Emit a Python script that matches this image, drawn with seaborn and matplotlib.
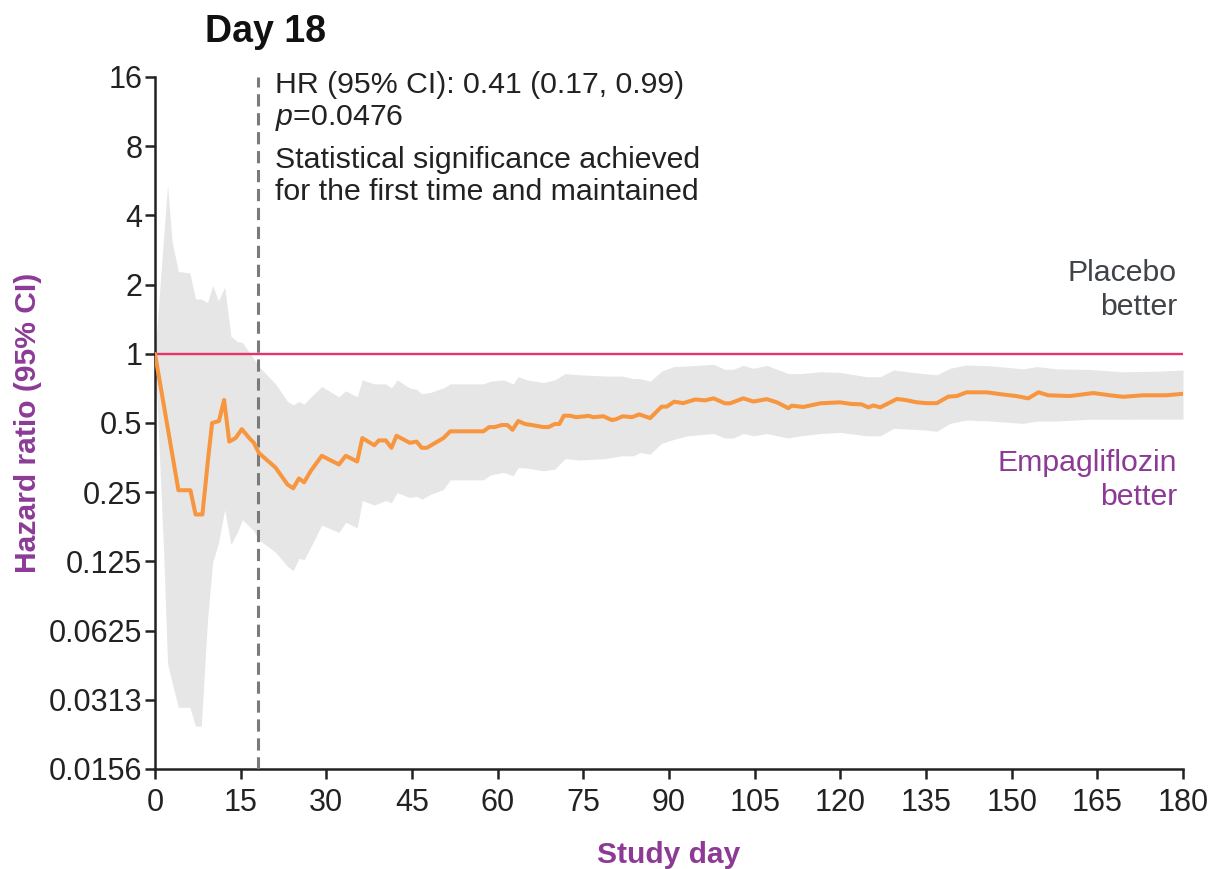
import numpy as np
import pandas as pd
import matplotlib
matplotlib.use("Agg")
import matplotlib.pyplot as plt
import seaborn as sns

# ---------------- data ----------------
line_days = [0, 4.1, 6.2, 7.1, 8.3, 9.3, 10.0, 11.2, 12.1, 13.0, 14.1, 15.2, 16.5, 17.3, 18.2,
             21.1, 23.2, 24.2, 25.2, 26.1, 27.3, 29.2, 32.2, 33.4, 35.4, 36.3, 38.4, 39.2, 40.4,
             41.4, 42.3, 44.6, 45.8, 46.7, 47.6, 50.5, 51.7, 57.5, 58.5, 59.5, 60.7, 61.7, 62.6,
             63.6, 64.8, 66.0, 68.0, 68.9, 70.0, 70.8, 71.6, 72.6, 73.8, 75.9, 76.8, 78.5, 80.0,
             80.8, 81.9, 83.5, 84.8, 86.7, 88.7, 89.6, 90.9, 92.5, 94.6, 96.3, 97.8, 99.8, 100.7,
             103.0, 104.8, 107.1, 108.9, 110.9, 111.5, 113.5, 116.5, 119.9, 121.9, 123.7, 124.9,
             125.8, 127.0, 129.9, 131.3, 133.4, 135.1, 136.9, 138.9, 140.4, 142.1, 145.6, 148.5,
             150.8, 152.9, 154.7, 156.4, 160.2, 164.3, 167.2, 169.5, 173.0, 177.1, 180.0]
line_hr = [1.0, 0.255, 0.255, 0.20, 0.20, 0.35, 0.50, 0.51, 0.63, 0.415, 0.43, 0.47, 0.43, 0.41, 0.37,
           0.32, 0.27, 0.26, 0.287, 0.276, 0.31, 0.36, 0.33, 0.36, 0.34, 0.43, 0.40, 0.42, 0.42,
           0.39, 0.44, 0.41, 0.415, 0.39, 0.39, 0.43, 0.46, 0.46, 0.48, 0.48, 0.49, 0.49, 0.467,
           0.51, 0.495, 0.49, 0.48, 0.48, 0.495, 0.495, 0.538, 0.538, 0.53, 0.537, 0.53, 0.535, 0.515,
           0.52, 0.535, 0.53, 0.545, 0.525, 0.589, 0.589, 0.619, 0.61, 0.633, 0.627, 0.64, 0.609, 0.609,
           0.64, 0.62, 0.635, 0.615, 0.58, 0.595, 0.587, 0.609, 0.615, 0.605, 0.603, 0.585,
           0.596, 0.585, 0.636, 0.63, 0.615, 0.61, 0.61, 0.651, 0.655, 0.68, 0.68, 0.665,
           0.655, 0.64, 0.68, 0.66, 0.655, 0.675, 0.66, 0.65, 0.66, 0.66, 0.67]

band_days = [0, 1.5, 2.2, 3.0, 4.1, 6.1, 7.1, 8.1, 9.2, 10.1, 11.1, 12.2, 13.3, 14.4, 15.3, 17.3,
             18.2, 21.1, 23.2, 24.2, 25.2, 26.1, 27.3, 29.2, 32.2, 33.4, 35.4, 36.3, 38.4, 40.4,
             41.4, 42.4, 44.6, 45.8, 46.7, 48.3, 50.5, 51.7, 57.5, 58.7, 61.0, 62.7, 63.6, 65.1,
             68.0, 70.0, 71.8, 74.4, 78.9, 81.7, 83.8, 84.9, 86.7, 88.7, 90.8, 93.2, 97.8, 99.8,
             101.2, 103.0, 104.8, 107.1, 110.9, 113.0, 116.5, 119.9, 124.6, 127.0, 129.3, 134.5,
             136.9, 139.2, 142.1, 146.2, 152.0, 154.4, 157.8, 163.7, 169.5, 175.4, 180.0]
band_lo = [1.0, 0.14, 0.045, 0.037, 0.029, 0.029, 0.024, 0.024, 0.07, 0.124, 0.15, 0.21, 0.148, 0.167, 0.19, 0.17,
           0.155, 0.137, 0.119, 0.114, 0.129, 0.127, 0.145, 0.18, 0.167, 0.185, 0.175, 0.23, 0.22, 0.23,
           0.225, 0.249, 0.237, 0.24, 0.233, 0.245, 0.257, 0.283, 0.283, 0.297, 0.305, 0.295, 0.32, 0.318,
           0.31, 0.315, 0.35, 0.345, 0.35, 0.36, 0.36, 0.372, 0.366, 0.408, 0.424, 0.44, 0.45, 0.43,
           0.43, 0.45, 0.44, 0.45, 0.43, 0.44, 0.45, 0.455, 0.44, 0.44, 0.474, 0.467,
           0.46, 0.498, 0.515, 0.51, 0.498, 0.51, 0.51, 0.519, 0.519, 0.52, 0.52]
band_hi = [1.0, 3.2, 5.4, 3.07, 2.28, 2.25, 1.73, 1.73, 1.67, 1.98, 1.70, 1.95, 1.19, 1.13, 1.12, 0.95,
           0.88, 0.74, 0.62, 0.60, 0.62, 0.605, 0.65, 0.72, 0.65, 0.69, 0.65, 0.77, 0.74, 0.74,
           0.71, 0.77, 0.71, 0.70, 0.67, 0.68, 0.71, 0.74, 0.74, 0.76, 0.77, 0.74, 0.795, 0.77,
           0.75, 0.77, 0.82, 0.81, 0.80, 0.80, 0.78, 0.78, 0.76, 0.84, 0.88, 0.885, 0.90, 0.856,
           0.856, 0.89, 0.865, 0.89, 0.82, 0.82, 0.835, 0.83, 0.795, 0.795, 0.85, 0.82,
           0.81, 0.865, 0.894, 0.887, 0.86, 0.88, 0.86, 0.855, 0.835, 0.84, 0.85]

y_ticks = [2.0 ** k for k in range(-6, 5)]
y_tick_labels = ["0.0156", "0.0313", "0.0625", "0.125", "0.25", "0.5", "1", "2", "4", "8", "16"]
x_ticks = list(range(0, 181, 15))
sig_day = 18

# ---------------- style ----------------
sns.set_theme(style="white")
plt.rcParams["font.family"] = ["Liberation Sans", "DejaVu Sans"]
plt.rcParams["mathtext.fontset"] = "custom"
plt.rcParams["mathtext.it"] = "Liberation Sans:italic"
plt.rcParams["mathtext.rm"] = "Liberation Sans"

ORANGE = "#F7963F"
PINK = "#E8336B"
BAND = "#E6E6E6"
PURPLE = "#8C3A96"
DARK = "#222222"
GREY_TXT = "#404448"

W, H = 1211, 869
fig = plt.figure(figsize=(W / 100, H / 100), dpi=100)
ax = fig.add_axes([155 / W, 1 - 769 / H, (1183 - 155) / W, (769 - 77) / H])

ax.set_yscale("log", base=2)
ax.fill_between(band_days, band_lo, band_hi, color=BAND, linewidth=0, zorder=1)
ax.axhline(1, color=PINK, lw=1.7, zorder=2)
ax.axvline(sig_day, color="#7A7A7A", lw=2.2, ls=(0, (4, 2.2)), zorder=3)

df = pd.DataFrame({"day": line_days, "hr": line_hr})
sns.lineplot(data=df, x="day", y="hr", ax=ax, color=ORANGE, lw=2.9, zorder=4,
             estimator=None, sort=False)

ax.set_xlim(0, 180)
ax.set_ylim(2.0 ** -6, 2.0 ** 4)
ax.set_yticks(y_ticks)
ax.set_yticklabels(y_tick_labels)
ax.yaxis.set_minor_locator(matplotlib.ticker.NullLocator())
ax.set_xticks(x_ticks)
ax.set_xticklabels([str(t) for t in x_ticks])

for s in ["top", "right"]:
    ax.spines[s].set_visible(False)
for s in ["left", "bottom"]:
    ax.spines[s].set_color(DARK)
    ax.spines[s].set_linewidth(1.8)
ax.tick_params(axis="both", direction="out", length=7, width=1.8, color=DARK,
               labelsize=22, labelcolor=DARK, left=True, bottom=True)
ax.tick_params(axis="y", pad=2)
ax.tick_params(axis="x", pad=7)

ax.set_xlabel("Study day", fontsize=21.6, fontweight="bold", color=PURPLE, labelpad=16)
ax.set_ylabel("Hazard ratio (95% CI)", fontsize=21.6, fontweight="bold", color=PURPLE, labelpad=5)

def fx(x):
    return x / W

def fy(y):
    return 1 - y / H

fig.text(fx(205), fy(32), "Day 18", fontsize=27, fontweight="bold", color="#111111",
         ha="left", va="center")
fig.text(fx(275), fy(85), "HR (95% CI): 0.41 (0.17, 0.99)", fontsize=21.8, color=DARK,
         ha="left", va="center")
fig.text(fx(275), fy(118), r"$\it{p}$=0.0476", fontsize=21.8, color=DARK, ha="left", va="center")
fig.text(fx(275), fy(176), "Statistical significance achieved\nfor the first time and maintained",
         fontsize=21.8, color=DARK, ha="left", va="center", linespacing=1.22)
fig.text(fx(1177), fy(290), "Placebo\nbetter", fontsize=21.8, color=GREY_TXT, ha="right",
         va="center", linespacing=1.25)
fig.text(fx(1177), fy(480), "Empagliflozin\nbetter", fontsize=21.8, color=PURPLE, ha="right",
         va="center", linespacing=1.25)

fig.savefig("out.png", dpi=100)
